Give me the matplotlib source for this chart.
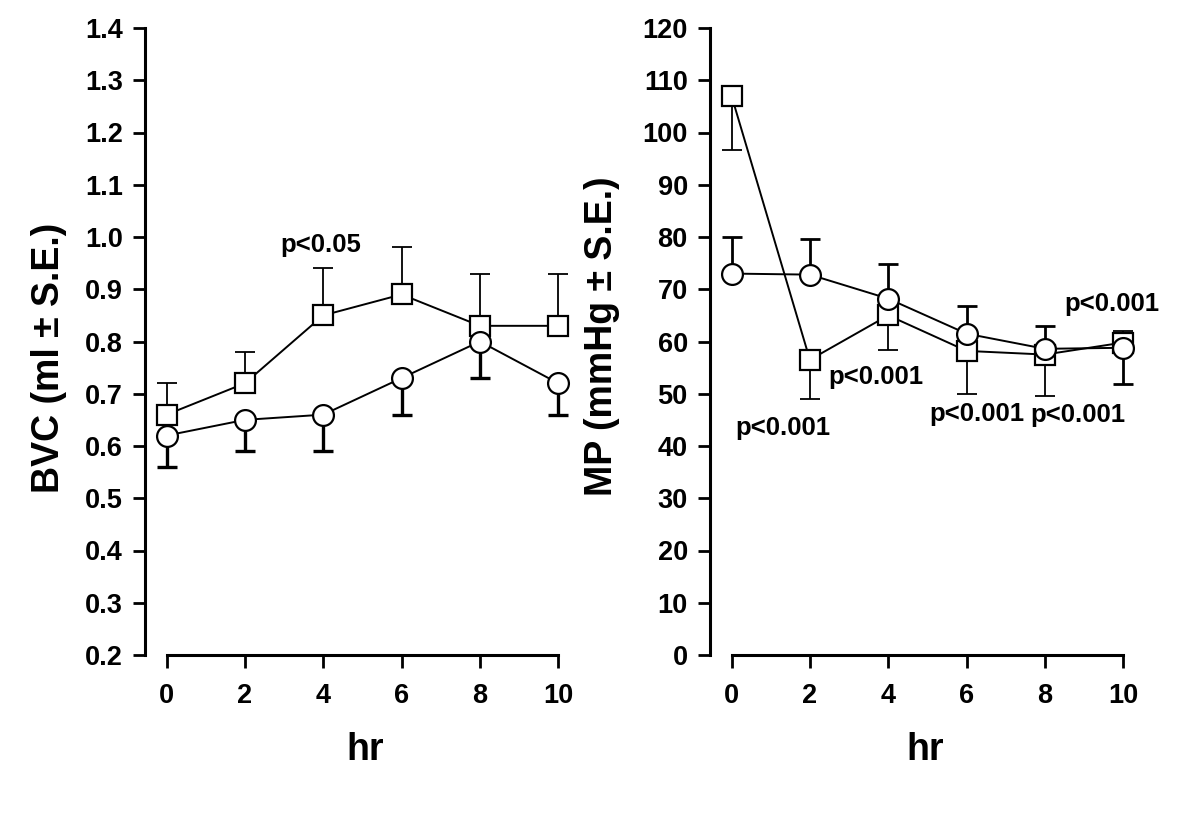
import matplotlib
matplotlib.use("Agg")
import matplotlib.pyplot as plt

plt.rcParams['font.family'] = ['Liberation Sans', 'DejaVu Sans']
plt.rcParams['font.weight'] = 'bold'

hours = [0, 2, 4, 6, 8, 10]

# BVC (left panel)
bvc_sq = [0.66, 0.72, 0.85, 0.89, 0.83, 0.83]
bvc_sq_err = [0.72, 0.78, 0.94, 0.98, 0.93, 0.93]   # end of error bar
bvc_ci = [0.62, 0.65, 0.66, 0.73, 0.80, 0.72]
bvc_ci_err = [0.56, 0.59, 0.59, 0.66, 0.73, 0.66]

# MP (right panel)
mp_sq = [107.0, 56.5, 65.0, 58.2, 57.5, 59.8]
mp_sq_err = [96.7, 49.0, 58.3, 50.0, 49.5, 62.0]
mp_ci = [73.0, 72.8, 68.2, 61.5, 58.6, 58.8]
mp_ci_err = [80.0, 79.6, 74.8, 66.8, 63.0, 51.8]

left_ticks = [0.2, 0.3, 0.4, 0.5, 0.6, 0.7, 0.8, 0.9, 1.0, 1.1, 1.2, 1.3, 1.4]
right_ticks = list(range(0, 121, 10))


def draw_series(ax, y, yend, marker, err_lw):
    ax.vlines(hours, y, yend, color='black', lw=err_lw, zorder=2)
    ax.plot(hours, yend, ls='none', marker='_', ms=15, mew=err_lw,
            color='black', zorder=2)
    ax.plot(hours, y, color='black', lw=1.4, marker=marker, ms=15,
            mfc='white', mec='black', mew=1.6, zorder=3, clip_on=False)


def style_axes(ax, ylim, yticks, ylabel, yfmt, ylab_xy, xlab_xy):
    ax.set_xlim(-0.55, 10.3)
    ax.set_ylim(*ylim)
    ax.spines['top'].set_visible(False)
    ax.spines['right'].set_visible(False)
    ax.spines['left'].set_linewidth(2.2)
    ax.spines['bottom'].set_linewidth(2.2)
    ax.spines['bottom'].set_bounds(0, 10)
    ax.spines['left'].set_bounds(ylim[0], ylim[1])
    ax.set_xticks(hours)
    ax.set_yticks(yticks)
    ax.set_yticklabels([yfmt(t) for t in yticks])
    ax.tick_params(axis='both', direction='out', length=9, width=2,
                   labelsize=19.5, pad=7)
    ax.tick_params(axis='x', pad=11)
    for lab in ax.get_xticklabels() + ax.get_yticklabels():
        lab.set_fontweight('bold')
    ax.set_xlabel('hr', fontsize=27, fontweight='bold')
    ax.set_ylabel(ylabel, fontsize=27, fontweight='bold')
    ax.xaxis.label.set_va('center')
    ax.yaxis.label.set_va('center')
    ax.xaxis.set_label_coords(*xlab_xy)
    ax.yaxis.set_label_coords(*ylab_xy)


fig = plt.figure(figsize=(12, 8.4), dpi=100)
ax1 = fig.add_axes([145 / 1200, 185 / 840, 425 / 1200, 627 / 840])
ax2 = fig.add_axes([710 / 1200, 185 / 840, 425 / 1200, 627 / 840])

draw_series(ax1, bvc_sq, bvc_sq_err, 's', 1.3)
draw_series(ax1, bvc_ci, bvc_ci_err, 'o', 2.4)
style_axes(ax1, (0.2, 1.4), left_ticks, 'BVC (ml ± S.E.)', lambda t: f'{t:.1f}',
           (-0.226, 0.474), (0.518, -0.1515))
ax1.text(3.95, 0.985, 'p<0.05', ha='center', va='center', fontsize=18.5, fontweight='bold')

draw_series(ax2, mp_sq, mp_sq_err, 's', 1.3)
draw_series(ax2, mp_ci, mp_ci_err, 'o', 2.0)
style_axes(ax2, (0, 120), right_ticks, 'MP (mmHg ± S.E.)', lambda t: f'{t:d}',
           (-0.254, 0.509), (0.506, -0.1515))

p_labels = [(1.32, 43.4), (3.69, 53.2), (6.26, 46.1), (8.83, 45.9), (9.72, 67.2)]
for px, py in p_labels:
    ax2.text(px, py, 'p<0.001', ha='center', va='center', fontsize=18.5, fontweight='bold')

fig.savefig('out.png', dpi=100)
